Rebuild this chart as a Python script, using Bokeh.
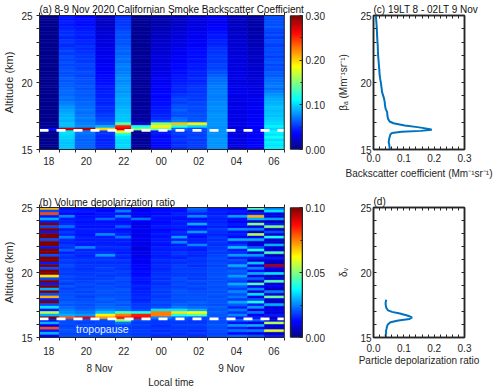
import numpy as np
from bokeh.plotting import figure
from bokeh.models import (LinearColorMapper, FixedTicker, LinearAxis, Range1d,
                          Label, ColumnDataSource, PrintfTickFormatter)
from bokeh.layouts import column, row
from bokeh.embed import file_html
from bokeh.resources import INLINE

# ------------------------------------------------------------------ data
# column (profile) edges in local hours (24 = 00 LT on 9 Nov)
time_edges_h = [17.5, 18.55, 19.4, 20.5, 21.55, 22.4, 23.45, 24.55, 25.4, 26.45, 27.55, 28.6, 29.5, 30.55]
time_tick_h = [18, 20, 22, 24, 26, 28, 30]
time_tick_labels = ["18", "20", "22", "00", "02", "04", "06"]
date_label_h = [20.7, 27.73]
date_labels = ["8 Nov", "9 Nov"]
# altitude bin edges, top to bottom (km)
alt_edges_km = [25.0, 24.8, 24.6, 24.4, 24.2, 24.0, 23.8, 23.6, 23.4, 23.2, 23.0, 22.8, 22.6, 22.4,
                22.2, 22.0, 21.8, 21.6, 21.4, 21.2, 21.0, 20.8, 20.6, 20.4, 20.2, 20.0, 19.8, 19.6,
                19.4, 19.2, 19.0, 18.8, 18.6, 18.4, 18.2, 18.0, 17.8, 17.6, 17.4, 17.2, 17.0, 16.8,
                16.6, 16.4, 16.2, 16.0, 15.8, 15.6, 15.4, 15.2, 15.0]
tropopause_km = 16.43

# backscatter coefficient, 1e-3 Mm-1 sr-1, top (25 km) to bottom (15 km)
bsc_18h = [4, 5, 4, 5, 4, 5, 5, 4, 5, 4, 5, 5, 4, 5, 4, 5, 5, 4, 5, 4, 5, 5, 4, 5, 4,
           5, 5, 4, 5, 4, 5, 5, 4, 5, 4, 5, 5, 4, 5, 5, 5, 5, 40, 5, 5, 4, 5, 5, 4, 5]
bsc_19h = [45, 42, 48, 44, 46, 50, 50, 52, 48, 55, 52, 50, 55, 58, 55, 60, 57, 62, 58, 60, 63, 60, 62, 65, 63,
           66, 64, 68, 70, 67, 72, 70, 74, 78, 82, 85, 88, 90, 92, 90, 95, 92, 280, 105, 102, 100, 98, 96, 95, 97]
bsc_20h = [38, 40, 42, 40, 44, 45, 46, 48, 45, 50, 48, 52, 50, 52, 55, 53, 56, 54, 58, 56, 58, 60, 57, 60, 62,
           60, 63, 62, 65, 64, 66, 65, 68, 68, 70, 72, 70, 72, 75, 72, 75, 78, 285, 72, 70, 68, 66, 68, 65, 67]
bsc_21h = [18, 20, 22, 20, 22, 25, 25, 28, 26, 30, 28, 30, 32, 30, 33, 32, 35, 33, 36, 35, 38, 36, 40, 38, 42,
           42, 45, 44, 47, 46, 48, 50, 48, 50, 52, 50, 53, 55, 58, 60, 65, 90, 200, 55, 52, 50, 48, 50, 47, 50]
bsc_22h = [50, 52, 55, 53, 56, 58, 60, 62, 60, 64, 62, 65, 66, 68, 66, 70, 72, 70, 74, 75, 73, 76, 78, 80, 78,
           80, 82, 84, 82, 85, 86, 88, 86, 88, 90, 92, 94, 95, 96, 98, 140, 255, 270, 180, 115, 105, 102, 100, 103, 100]
bsc_23h = [6, 7, 6, 8, 7, 6, 7, 8, 7, 6, 8, 7, 8, 7, 8, 9, 8, 7, 8, 9, 8, 8, 9, 8, 9,
           8, 9, 8, 9, 10, 9, 8, 9, 9, 10, 9, 10, 9, 10, 12, 20, 120, 150, 10, 8, 9, 8, 8, 9, 8]
bsc_00h = [12, 14, 15, 13, 16, 18, 18, 20, 22, 20, 23, 25, 24, 25, 27, 26, 28, 30, 28, 30, 32, 30, 33, 35, 34,
           35, 37, 36, 38, 40, 38, 40, 42, 42, 44, 45, 46, 48, 50, 60, 150, 190, 150, 45, 42, 40, 42, 40, 38, 40]
bsc_01h = [18, 20, 22, 20, 24, 25, 26, 28, 30, 28, 32, 30, 33, 35, 33, 36, 38, 36, 40, 38, 42, 40, 44, 42, 45,
           46, 48, 50, 48, 52, 55, 58, 55, 60, 62, 65, 62, 60, 68, 75, 205, 120, 70, 55, 55, 52, 55, 50, 52, 50]
bsc_02h = [25, 28, 30, 28, 32, 30, 34, 32, 36, 35, 38, 36, 40, 40, 42, 40, 44, 42, 45, 44, 46, 48, 46, 50, 48,
           50, 52, 54, 52, 55, 56, 55, 58, 58, 60, 58, 62, 60, 62, 65, 190, 100, 60, 58, 56, 58, 55, 57, 55, 56]
bsc_03h = [32, 35, 34, 36, 38, 40, 42, 45, 44, 48, 46, 50, 52, 52, 55, 54, 56, 55, 58, 56, 60, 62, 65, 68, 70,
           72, 74, 73, 75, 76, 74, 76, 78, 78, 80, 78, 80, 82, 80, 82, 82, 80, 82, 80, 82, 80, 83, 81, 80, 82]
bsc_04h = [18, 20, 18, 20, 22, 20, 22, 24, 22, 25, 24, 26, 25, 26, 28, 27, 28, 30, 28, 30, 29, 30, 32, 30, 31,
           30, 32, 31, 33, 32, 30, 32, 31, 30, 32, 31, 30, 32, 30, 31, 30, 31, 30, 29, 30, 29, 31, 30, 29, 30]
bsc_05h = [12, 10, 13, 12, 14, 12, 15, 14, 16, 18, 16, 18, 20, 18, 20, 22, 20, 22, 24, 22, 25, 24, 26, 25, 28,
           28, 30, 29, 32, 30, 33, 32, 34, 35, 34, 36, 35, 37, 36, 38, 37, 38, 36, 38, 37, 38, 36, 38, 37, 38]
bsc_06h = [62, 58, 62, 60, 64, 58, 56, 60, 55, 62, 58, 56, 60, 58, 62, 56, 60, 64, 58, 62, 60, 66, 64, 68, 70,
           72, 74, 70, 76, 80, 85, 88, 90, 92, 95, 92, 96, 94, 98, 100, 102, 110, 100, 112, 105, 115, 102, 110, 104, 108]

# volume depolarization ratio, percent, top (25 km) to bottom (15 km)
dep_18h = [7, 2, 8, 1.5, 3, 1.5, 10, 2, 10, 1.5, 10, 10, 2, 10, 10, 1.5, 10, 10, 2, 10, 10, 1.5, 10, 2, 10,
           10, 6.5, 2, 10, 1.5, 10, 3, 10, 2, 7, 1.5, 10, 2, 3.5, 1.5, 5.5, 3, 10, 1.5, 3, 1.2, 8, 1.5, 3, 1.2]
dep_19h = [1.4, 1.6, 1.3, 2.6, 1.5, 1.6, 1.7, 2.4, 1.5, 1.8, 1.6, 2.5, 1.7, 1.6, 1.8, 1.7, 2.2, 1.6, 1.8, 1.7, 1.9, 1.8, 2.0, 1.8, 1.9,
           1.8, 2.0, 1.9, 2.0, 1.8, 2.1, 1.9, 2.0, 2.0, 2.1, 2.0, 2.2, 2.1, 2.3, 2.5, 2.6, 3.0, 8.0, 2.0, 2.0, 1.9, 2.0, 2.1, 1.9, 2.0]
dep_20h = [1.4, 1.5, 1.3, 1.4, 1.5, 1.4, 1.5, 1.4, 1.6, 1.5, 1.4, 1.6, 1.5, 1.6, 1.5, 2.6, 1.6, 1.7, 1.6, 1.7, 1.8, 1.7, 1.8, 1.7, 1.8,
           1.8, 1.9, 1.8, 1.9, 2.0, 1.9, 2.0, 1.9, 2.0, 1.9, 2.0, 2.1, 2.0, 2.1, 2.3, 2.4, 2.8, 9.0, 2.0, 1.9, 2.0, 1.9, 2.0, 1.9, 2.0]
dep_21h = [1.4, 1.3, 1.5, 1.4, 2.3, 1.4, 1.5, 1.4, 1.6, 1.5, 2.6, 1.5, 1.6, 1.5, 1.6, 1.7, 1.6, 1.7, 2.8, 1.7, 1.8, 1.7, 1.8, 1.9, 1.8,
           1.9, 1.8, 1.9, 2.0, 1.9, 2.0, 2.0, 2.1, 2.0, 2.1, 2.2, 2.1, 2.2, 2.3, 2.6, 3.2, 6.3, 7.2, 2.0, 2.0, 1.9, 2.0, 1.9, 2.0, 1.9]
dep_22h = [1.5, 2.5, 1.4, 2.6, 1.5, 1.4, 1.5, 2.2, 1.4, 1.5, 1.6, 2.4, 1.5, 1.6, 1.5, 1.7, 1.6, 1.5, 1.7, 1.6, 1.8, 1.7, 1.8, 1.7, 1.9,
           1.8, 1.9, 2.0, 1.9, 2.0, 1.9, 2.1, 2.0, 2.0, 2.1, 2.0, 2.2, 2.1, 2.3, 2.4, 4.5, 7.5, 8.5, 5.0, 2.4, 2.0, 1.9, 2.0, 1.9, 2.0]
dep_23h = [1.2, 1.1, 1.3, 1.1, 2.4, 1.2, 1.1, 1.0, 1.2, 1.1, 1.0, 1.2, 1.1, 1.0, 1.1, 0.9, 1.0, 1.1, 1.0, 1.2, 1.1, 1.2, 1.3, 1.2, 1.4,
           1.3, 1.4, 1.5, 1.4, 1.5, 1.6, 1.5, 1.6, 1.6, 1.7, 1.6, 1.7, 1.8, 1.8, 2.0, 4.0, 8.5, 9.0, 2.0, 1.8, 1.9, 1.8, 1.9, 1.8, 1.9]
dep_00h = [1.3, 1.4, 1.3, 1.5, 1.4, 1.3, 1.4, 1.5, 1.3, 1.4, 1.5, 1.4, 1.5, 1.5, 1.4, 1.6, 1.5, 1.6, 1.5, 1.6, 1.7, 1.6, 1.7, 1.6, 1.7,
           1.7, 1.8, 1.7, 1.8, 1.7, 1.8, 1.9, 1.8, 1.9, 1.8, 1.9, 2.0, 1.9, 2.0, 3.5, 7.5, 7.5, 2.5, 1.8, 1.8, 1.7, 1.8, 1.7, 1.8, 1.7]
dep_01h = [1.5, 1.4, 1.6, 1.5, 1.4, 1.6, 1.5, 1.6, 1.4, 1.7, 1.5, 2.8, 1.6, 2.6, 1.5, 1.7, 1.6, 1.8, 1.7, 1.6, 1.8, 1.7, 1.9, 1.8, 1.9,
           1.8, 1.9, 2.0, 1.9, 2.0, 1.9, 2.0, 2.1, 2.0, 2.1, 2.0, 2.1, 2.2, 2.4, 3.5, 6.5, 4.0, 2.2, 1.9, 1.8, 1.9, 1.8, 1.8, 1.7, 1.8]
dep_02h = [2.3, 2.0, 1.5, 2.6, 1.4, 1.5, 3.0, 1.4, 1.5, 2.8, 1.5, 1.4, 1.6, 1.5, 2.6, 1.6, 1.5, 1.7, 1.6, 1.8, 1.7, 1.8, 1.7, 1.8, 1.9,
           1.8, 1.9, 1.8, 2.0, 1.9, 2.0, 1.9, 2.0, 2.0, 2.1, 2.0, 2.2, 2.1, 2.3, 3.0, 6.2, 4.5, 2.0, 1.8, 1.8, 1.9, 1.8, 1.7, 1.8, 1.7]
dep_03h = [1.5, 1.6, 1.5, 1.7, 1.6, 1.6, 1.7, 1.6, 1.8, 1.7, 1.6, 1.8, 1.7, 1.8, 1.7, 1.8, 1.9, 1.8, 1.9, 2.0, 1.9, 2.0, 1.9, 2.0, 2.0,
           2.0, 2.1, 2.0, 2.0, 2.1, 2.0, 2.1, 2.0, 2.1, 2.0, 2.1, 2.1, 2.0, 2.2, 2.1, 2.2, 2.1, 2.0, 2.0, 2.0, 2.1, 2.0, 2.0, 1.9, 2.0]
dep_04h = [1.2, 1.5, 1.3, 2.8, 1.4, 1.2, 1.5, 1.3, 2.6, 1.4, 1.6, 1.3, 3.0, 1.4, 1.8, 3.2, 1.5, 1.7, 2.8, 1.6, 2.0, 1.8, 3.0, 1.9, 2.2,
           2.0, 2.8, 2.1, 1.8, 3.0, 2.2, 1.9, 2.6, 2.0, 2.4, 1.8, 2.9, 2.2, 1.6, 2.4, 1.8, 2.6, 1.5, 2.2, 1.4, 2.8, 1.6, 2.4, 1.3, 2.2]
dep_05h = [4.5, 0.6, 1.5, 7.0, 3.0, 0.8, 5.0, 1.0, 2.5, 0.7, 5.5, 1.2, 3.0, 0.8, 1.0, 2.0, 4.0, 0.8, 2.8, 1.5, 0.7, 3.2, 1.0, 2.5, 1.4,
           3.0, 1.0, 2.2, 0.8, 4.5, 1.2, 2.6, 1.0, 3.5, 0.9, 2.0, 4.0, 1.5, 2.8, 1.0, 2.4, 1.2, 1.5, 2.2, 1.0, 3.0, 1.2, 2.5, 0.9, 2.0]
dep_06h = [2.5, 3.5, 1.2, 0.8, 2.8, 0.6, 1.5, 5.0, 0.7, 2.0, 0.8, 4.0, 1.0, 0.7, 3.0, 0.8, 1.0, 4.5, 0.6, 1.5, 0.8, 0.7, 9.5, 1.2, 0.8,
           3.5, 0.7, 1.0, 4.5, 0.8, 1.2, 0.6, 2.5, 0.8, 4.8, 1.0, 0.7, 3.0, 0.8, 1.2, 0.8, 1.5, 0.7, 1.2, 5.5, 0.8, 1.0, 6.0, 0.7, 1.5]

# mean profiles 19LT 8 Nov - 02LT 9 Nov
bsc_prof_alt_km = [24.95, 24.0, 23.4, 22.76, 22.1, 21.52, 21.0, 20.6, 20.27, 20.02, 19.52, 19.3, 19.15, 18.78,
                   18.53, 18.3, 18.03, 17.79, 17.5, 17.29, 17.09, 16.96, 16.79, 16.67, 16.54, 16.47, 16.39,
                   16.32, 16.24, 16.14, 15.92, 15.7, 15.55, 15.35, 15.17, 15.0]
bsc_prof_val = [0.008, 0.011, 0.012, 0.014, 0.015, 0.017, 0.019, 0.020, 0.022, 0.024, 0.027, 0.028, 0.030, 0.035,
                0.037, 0.038, 0.040, 0.045, 0.046, 0.048, 0.053, 0.066, 0.103, 0.145, 0.182, 0.192, 0.156,
                0.093, 0.061, 0.056, 0.053, 0.051, 0.050, 0.052, 0.053, 0.054]
dep_prof_alt_km = [17.91, 17.7, 17.54, 17.29, 17.09, 16.97, 16.84, 16.67, 16.55, 16.42, 16.30, 16.17, 16.0,
                   15.8, 15.67, 15.5, 15.35, 15.2, 15.0]
dep_prof_val = [0.042, 0.040, 0.040, 0.042, 0.048, 0.061, 0.087, 0.114, 0.127, 0.119, 0.082, 0.056, 0.047,
                0.044, 0.043, 0.041, 0.042, 0.040, 0.042]

bsc_cols = [bsc_18h, bsc_19h, bsc_20h, bsc_21h, bsc_22h, bsc_23h, bsc_00h,
            bsc_01h, bsc_02h, bsc_03h, bsc_04h, bsc_05h, bsc_06h]
dep_cols = [dep_18h, dep_19h, dep_20h, dep_21h, dep_22h, dep_23h, dep_00h,
            dep_01h, dep_02h, dep_03h, dep_04h, dep_05h, dep_06h]

# ------------------------------------------------------------------ style
FONT = "Liberation Sans"
AX = "#262626"
HEAT_W_PX, CB_GAP_PX, CB_W_PX = 247.5, 6.5, 12.0


def jet_palette(n=256):
    pal = []
    for i in range(n):
        t = i / (n - 1)
        r = min(max(min(4 * t - 1.5, -4 * t + 4.5), 0), 1)
        g = min(max(min(4 * t - 0.5, -4 * t + 3.5), 0), 1)
        b = min(max(min(4 * t + 0.5, -4 * t + 2.5), 0), 1)
        pal.append("#%02x%02x%02x" % (round(r * 255), round(g * 255), round(b * 255)))
    return pal


JET = jet_palette()


def alt_ticker():
    return FixedTicker(ticks=[15, 20, 25], minor_ticks=[16, 17, 18, 19, 21, 22, 23, 24])


def style_axis(ax, tick_in, tick_out, label_size="10px", standoff=3):
    ax.axis_line_color = AX
    ax.major_tick_line_color = AX
    ax.minor_tick_line_color = AX
    ax.major_tick_in = tick_in
    ax.major_tick_out = tick_out
    ax.minor_tick_in = tick_in
    ax.minor_tick_out = tick_out
    ax.major_label_text_font = FONT
    ax.major_label_text_font_size = label_size
    ax.major_label_text_color = AX
    ax.major_label_standoff = standoff
    ax.axis_label_text_font = FONT
    ax.axis_label_text_font_style = "normal"
    ax.axis_label_text_color = AX


def style_title(p, text, standoff):
    p.title.text = text
    p.title.align = "left"
    p.title.standoff = standoff
    p.title.text_font = FONT
    p.title.text_font_size = "10px"
    p.title.text_font_style = "normal"
    p.title.text_color = "#111111"


def heatmap(cols, scale, high, cb_ticks, cb_minor, height, top, bottom, tick_standoff, title, title_standoff):
    t0, t1 = time_edges_h[0], time_edges_h[-1]
    px_per_h = HEAT_W_PX / (t1 - t0)
    cb_x0 = t1 + CB_GAP_PX / px_per_h
    cb_x1 = cb_x0 + CB_W_PX / px_per_h
    left, right, ytop, ybot, val = [], [], [], [], []
    for j, col in enumerate(cols):
        assert len(col) == len(alt_edges_km) - 1, (j, len(col))
        for i, v in enumerate(col):
            left.append(time_edges_h[j])
            right.append(time_edges_h[j + 1])
            ytop.append(alt_edges_km[i])
            ybot.append(alt_edges_km[i + 1])
            val.append(v * scale)
    src = ColumnDataSource(dict(left=left, right=right, top=ytop, bottom=ybot, v=val))
    mapper = LinearColorMapper(palette=JET, low=0, high=high)
    p = figure(width=335, height=height, output_backend="svg", toolbar_location=None,
               x_range=Range1d(t0, cb_x1), y_range=Range1d(alt_edges_km[-1], alt_edges_km[0]),
               min_border_left=36, min_border_right=33, min_border_top=top, min_border_bottom=bottom)
    p.extra_y_ranges = {"cb": Range1d(0, high)}
    p.quad(left="left", right="right", top="top", bottom="bottom", source=src,
           fill_color={"field": "v", "transform": mapper},
           line_color={"field": "v", "transform": mapper}, line_width=0.6)
    p.line(x=[t0, t1], y=[tropopause_km, tropopause_km],
           line_color="white", line_width=2.6, line_dash="9 8")
    p.quad(left=[t0], right=[t1], bottom=[alt_edges_km[-1]], top=[alt_edges_km[0]],
           fill_color=None, line_color=AX, line_width=1)
    # colour bar drawn from the palette
    n = len(JET)
    p.quad(left=cb_x0, right=cb_x1, bottom=[high * i / n for i in range(n)],
           top=[high * (i + 1) / n for i in range(n)], fill_color=JET, line_color=JET,
           line_width=0.5, y_range_name="cb")
    p.quad(left=[cb_x0], right=[cb_x1], bottom=[0], top=[high], fill_color=None,
           line_color=AX, line_width=1.6, y_range_name="cb")
    p.grid.visible = False
    p.outline_line_color = None
    p.background_fill_color = "white"

    xt = FixedTicker(ticks=time_tick_h, minor_ticks=time_edges_h)
    xa = p.xaxis[0]
    xa.ticker = xt
    xa.bounds = (t0, t1)
    xa.major_label_overrides = dict(zip(time_tick_h, time_tick_labels))
    style_axis(xa, 0, 3, standoff=tick_standoff)
    xa.major_tick_out = 0
    ya = p.yaxis[0]
    ya.ticker = alt_ticker()
    style_axis(ya, 0, 3, standoff=4)
    ya.axis_label = "Altitude (km)"
    ya.axis_label_text_font_size = "11px"
    ya.axis_label_standoff = 3

    top_ax = LinearAxis(ticker=xt, bounds=(t0, t1))
    style_axis(top_ax, 0, 3, label_size="0px", standoff=0)
    top_ax.major_tick_out = 0
    top_ax.major_label_text_color = None
    p.add_layout(top_ax, "above")

    cb_ax = LinearAxis(y_range_name="cb", ticker=FixedTicker(ticks=cb_ticks, minor_ticks=cb_minor),
                       formatter=PrintfTickFormatter(format="%.2f"))
    style_axis(cb_ax, 3, 0, standoff=3)
    cb_ax.minor_tick_in = 2
    cb_ax.axis_line_width = 1
    p.add_layout(cb_ax, "right")

    style_title(p, title, title_standoff)
    return p


def profile(alts, vals, height, top, bottom, tick_standoff, label_standoff, title, title_standoff,
            ylabel, xlabel):
    p = figure(width=164, height=height, output_backend="svg", toolbar_location=None,
               x_range=Range1d(0, 0.3), y_range=Range1d(15, 25),
               min_border_left=34, min_border_right=35, min_border_top=top, min_border_bottom=bottom)
    p.line(x=vals, y=alts, line_color="#0072BD", line_width=2)
    p.grid.visible = False
    p.outline_line_color = AX
    p.outline_line_width = 1.5
    xt = FixedTicker(ticks=[0, 0.1, 0.2, 0.3],
                     minor_ticks=[0.02, 0.04, 0.06, 0.08, 0.12, 0.14, 0.16, 0.18, 0.22, 0.24, 0.26, 0.28])
    xa = p.xaxis[0]
    xa.ticker = xt
    xa.formatter = PrintfTickFormatter(format="%.1f")
    style_axis(xa, 3, 0, standoff=tick_standoff)
    xa.axis_line_width = 1.5
    xa.axis_label = xlabel
    xa.axis_label_text_font_size = "10px"
    xa.axis_label_standoff = label_standoff
    ya = p.yaxis[0]
    ya.ticker = alt_ticker()
    style_axis(ya, 3, 0, standoff=2)
    ya.axis_line_width = 1.5
    ya.axis_label = ylabel
    ya.axis_label_text_font_size = "10px"
    ya.axis_label_standoff = 8
    for loc, tk in (("above", xt), ("right", alt_ticker())):
        ax = LinearAxis(ticker=tk)
        style_axis(ax, 3, 0, label_size="0px", standoff=0)
        ax.axis_line_width = 1.5
        ax.major_label_text_color = None
        p.add_layout(ax, loc)
    style_title(p, title, title_standoff)
    return p


fa = heatmap(bsc_cols, 0.001, 0.3, [0, 0.1, 0.2, 0.3], [0.05, 0.15, 0.25],
             190, 15, 41, 4, "(a) 8-9 Nov 2020 Californian Smoke Backscatter Coefficient", -4)
fb = heatmap(dep_cols, 0.01, 0.1, [0, 0.05, 0.1], [0.025, 0.075],
             200, 17, 49, 6, "(b) Volume depolarization ratio", -6)
fb.add_layout(Label(x=19.45, y=15.63, text="tropopause", text_font=FONT, text_font_size="10.5px",
                    text_color="#e6eeff", text_baseline="middle"))
date_ax = LinearAxis(ticker=FixedTicker(ticks=date_label_h),
                     major_label_overrides=dict(zip(date_label_h, date_labels)))
style_axis(date_ax, 0, 0, standoff=5)
date_ax.axis_line_color = None
date_ax.major_tick_line_color = None
date_ax.minor_tick_line_color = None
date_ax.axis_label = "Local time"
date_ax.axis_label_text_font_size = "10px"
date_ax.axis_label_standoff = 0
fb.add_layout(date_ax, "below")

fc = profile(bsc_prof_alt_km, bsc_prof_val, 190, 15, 41, 4, 3, "(c) 19LT 8 - 02LT 9 Nov", 2,
             "\u03b2\u2090 (Mm\u207b\u00b9sr\u207b\u00b9)", "Backscatter coefficient (Mm\u207b\u00b9sr\u207b\u00b9)")
fd = profile(dep_prof_alt_km, dep_prof_val, 200, 17, 49, 6, 0, "(d)", 1,
             "\u03b4\u1d65", "Particle depolarization ratio")

layout = column(row(fa, fc), row(fb, fd))
open("out.html", "w").write(file_html(layout, INLINE))
